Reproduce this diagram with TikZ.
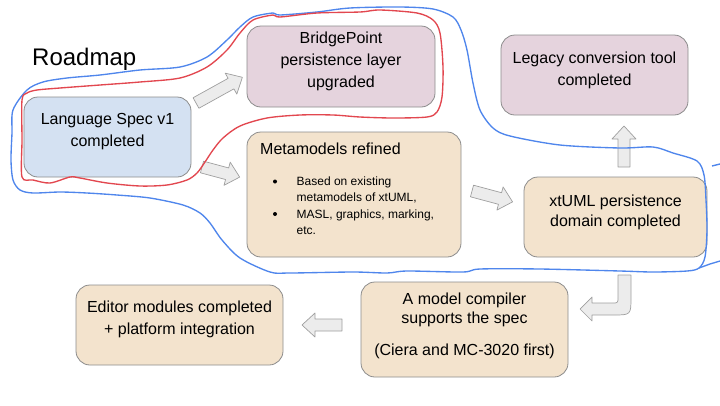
\documentclass[tikz,border=0pt]{standalone}
\usepackage{fontspec}
\setmainfont{Liberation Sans}
\usetikzlibrary{calc}
\definecolor{specblue}{HTML}{D4E1F2}
\definecolor{bpmauve}{HTML}{E5D3DD}
\definecolor{steptan}{HTML}{F3E3CD}
\definecolor{edgegray}{HTML}{8C8C8C}
\definecolor{arrowfill}{HTML}{ECECEC}
\definecolor{penblue}{HTML}{4F86EC}
\definecolor{penred}{HTML}{E2474F}

\begin{document}
\begin{tikzpicture}[x=1pt,y=-1pt,
  box/.style={draw=edgegray,rounded corners=14pt,line width=0.8pt},
  txt/.style={align=center,inner sep=0pt,font=\fontsize{16}{22}\selectfont},
  bullettxt/.style={anchor=base west,inner sep=0pt,font=\fontsize{12}{16}\selectfont},
  arrowbox/.style={draw=gray!75,fill=arrowfill,line width=0.7pt,line join=round},
  pen/.style={line width=1.35pt},
  pics/blockarrow/.style={code={
    \draw[arrowbox] (0,-6) -- ({#1-13},-6) -- ({#1-13},-12) -- (#1,0)
      -- ({#1-13},12) -- ({#1-13},6) -- (0,6) -- cycle;}}]
\useasboundingbox (0,0) rectangle (720,405);

\node[anchor=base west,inner sep=0pt,font=\fontsize{24}{28}\selectfont] (title) at (32,65) {Roadmap};

% milestone boxes
\node[box,fill=specblue,minimum width=167pt,minimum height=80pt] (spec) at (107.5,137) {};
\node[box,fill=bpmauve,minimum width=188pt,minimum height=81pt] (bridge) at (341,66.5) {};
\node[box,fill=bpmauve,minimum width=187pt,minimum height=80pt] (legacy) at (594.5,75) {};
\node[box,fill=steptan,minimum width=214pt,minimum height=125pt] (meta) at (354,194.5) {};
\node[box,fill=steptan,minimum width=183pt,minimum height=80pt] (xtuml) at (615.5,217) {};
\node[box,fill=steptan,minimum width=207pt,minimum height=95pt] (compiler) at (464.5,329.5) {};
\node[box,fill=steptan,minimum width=207pt,minimum height=80pt] (editor) at (179.5,325) {};

\node[txt] (spectxt) at ([yshift=5pt]spec.center) {Language Spec v1\\completed};
\node[txt] (bridgetxt) at ([yshift=5pt]bridge.center) {BridgePoint\\persistence layer\\upgraded};
\node[txt] (legacytxt) at ([yshift=5pt]legacy.center) {Legacy conversion tool\\completed};
\node[txt,font=\fontsize{16}{20}\selectfont] (xtumltxt) at ([yshift=5pt]xtuml.center) {xtUML persistence\\domain completed};
\node[txt,font=\fontsize{16}{19}\selectfont] (compilertxt) at ([yshift=4pt]compiler.center) {A model compiler\\supports the spec\\[13pt](Ciera and MC-3020 first)};
\node[txt] (editortxt) at ([yshift=6pt]editor.center) {Editor modules completed\\+ platform integration};

\node[anchor=west,inner sep=0pt,font=\fontsize{16}{20}\selectfont] (metatitle) at (260,149) {Metamodels refined};
\fill (275,181.5) circle (2pt);
\fill (275,214) circle (2pt);
\node[bullettxt] (m1) at (296.5,185) {Based on existing};
\node[bullettxt] (m2) at (296.5,201.5) {metamodels of xtUML,};
\node[bullettxt] (m3) at (296.5,218) {MASL, graphics, marking,};
\node[bullettxt] (m4) at (296.5,234) {etc.};

% block arrows
\pic[rotate=29] at (196,103) {blockarrow=53};
\pic[rotate=-15] at (202,167) {blockarrow=39};
\pic[rotate=-15] at (472,191) {blockarrow=42};
\pic[rotate=90] at (624,167) {blockarrow=41};
\pic[rotate=180] at (342,325) {blockarrow=40};
\draw[arrowbox] (618,275) -- (618,297) .. controls (618,303) .. (612,303)
  -- (592,303) -- (592,297) -- (580,309) -- (592,321) -- (592,315)
  -- (613,315) .. controls (631,315) .. (631,297) -- (631,275) -- cycle;

% hand drawn outlines
\draw[pen,penblue] plot[smooth cycle,tension=0.5] coordinates {
  (12,133) (13,110) (27,90) (43,82) (67,78) (100,75) (140,70) (180,67)
  (207,57) (227,40) (240,27) (253,17) (273,13) (280,15) (317,12) (350,8)
  (400,7) (433,9) (453,17) (461,30) (467,50) (473,83) (480,110) (493,128)
  (510,136) (560,145) (620,148) (653,147) (673,153) (697,161) (704,175)
  (706,200) (707,230) (705,257) (699,268) (687,271) (653,272) (620,271)
  (540,269) (480,269) (463,272) (407,271) (387,273) (353,272) (290,273)
  (270,272) (240,258) (222,240) (210,223) (200,213) (183,205) (150,198)
  (117,195) (87,193) (60,192) (33,193) (20,190) (13,180) (11,160)};
\draw[pen,penblue] (699,268) -- (710,264) -- (720,261);
\draw[pen,penblue] (712,166) -- (720,164);
\draw[pen,penred] plot[smooth cycle,tension=0.5] coordinates {
  (22,100) (27,93) (37,90) (60,88) (100,85) (140,82) (180,78) (207,67)
  (227,50) (240,33) (253,20) (273,15) (280,17) (317,13) (360,12) (380,10)
  (417,13) (433,20) (440,33) (443,67) (442,97) (437,112) (427,117)
  (393,118) (360,117) (333,115) (300,115) (267,118) (240,126) (223,138)
  (213,150) (205,162) (197,173) (187,180) (167,185) (140,186) (107,183)
  (80,178) (70,177) (50,183) (33,180) (22,177) (22,140)};
\end{tikzpicture}
\end{document}
